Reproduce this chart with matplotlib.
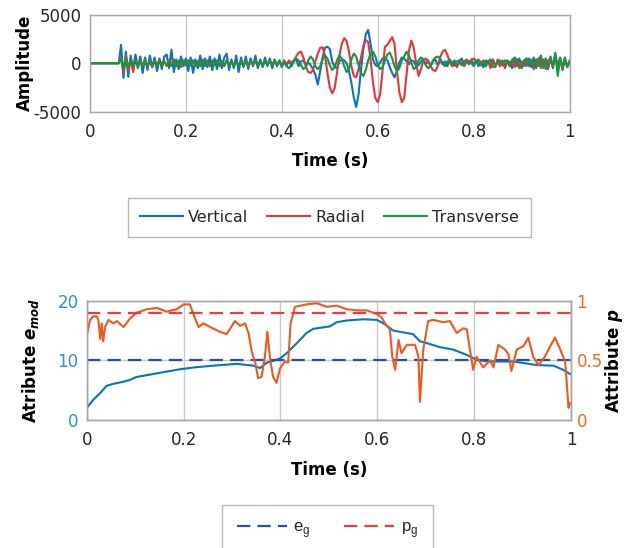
import numpy as np
import matplotlib.pyplot as plt

plt.rcParams['font.family'] = ['DejaVu Sans']
plt.rcParams['mathtext.fontset'] = 'custom'
plt.rcParams['mathtext.it'] = 'DejaVu Sans:bold:italic'
plt.rcParams['mathtext.rm'] = 'DejaVu Sans'
plt.rcParams['axes.unicode_minus'] = False

# ---- seismogram (top panel) ----
t_sig = np.round(np.arange(0.06, 1.0001, 0.005), 3)
t_sig = np.concatenate(([0.0], t_sig))

vertical = [0,
    0, 1900, -1500, 1200, -1400, 800, -600, 900, -500, 700,
    -1000, 600, -700, 800, -400, 600, -800, 500, -600, 700,
    900, -500, 1400, -900, 400, -600, 700, -300, 500, -800,
    600, -1000, 400, -500, 800, -600, 500, -400, 700, -700,
    500, -600, 900, -500, 600, 1000, -700, 400, -500, 800,
    -900, 600, -400, 700, -600, 500, -300, 800, -500, 400,
    -400, 600, -300, 500, -500, 400, -300, 300, -400, 300,
    -200, 300, -300, 200, 400, -300, 200, 300, -200, 100,
    -200, -600, -1200, -2200, -800, 600, 1600, 1700, 1500, 200,
    -400, -500, 200, 400, 300, 0, -800, -2000, -3500, -4500,
    -3200, -600, 1500, 3000, 3450, 2000, 400, -200, -300, 100,
    500, 600, 300, -400, -1000, -1450, -800, 100, 600, 500,
    200, -100, 300, 200, -300, -200, 200, 400, -100, 300,
    -300, 200, 400, -200, 300, -100, 200, -300, 400, -200,
    300, -400, 200, 500, -300, 200, -100, 400, -200, 300,
    -300, 200, -400, 300, 200, -300, 400, -200, 100, -300,
    200, -400, 300, 100, -500, 400, -300, 500, -400, 300,
    -300, 500, -400, 600, -500, 300, 800, -400, 500, -600,
    700, -500, 900, -300, 600, -700, 500, -400, 300]

radial = [0,
    0, 600, -1000, 800, -700, 500, -900, 400, -400, 300,
    -300, 400, -300, 200, -400, 300, -200, 400, -300, 200,
    -300, 300, -200, 400, -300, 200, -400, 300, -200, 300,
    -200, 300, -300, 200, -200, 400, -300, 200, -300, 300,
    -200, 300, -300, 200, -300, 300, -200, 200, -300, 200,
    -200, 300, -200, 200, -300, 200, -200, 300, -200, 200,
    -200, 200, -100, 200, -200, 300, -200, 100, -200, 200,
    -100, 200, 100, 300, 700, 1100, 1200, 600, -300, -900,
    -1000, -700, 200, 1000, 1600, 1650, 800, -1000, -2500, -3100,
    -2600, -1000, 800, 2000, 2600, 2300, 1200, -300, -1300, -1450,
    -600, 600, 1800, 2400, 2200, 400, -2000, -3600, -4000, -3200,
    -800, 1700, 1900, 2300, 2700, 2000, -800, -3000, -4000, -3600,
    -1200, 1300, 2350, 1600, 0, -1300, -600, 300, 500, 200,
    -300, -700, -800, -300, 600, 1200, 1400, 900, 100, -300,
    -200, -300, 100, -200, 200, 400, -100, 300, 500, 200,
    400, -200, 300, -300, 200, -500, 300, -400, 400, -300,
    300, -500, 200, -300, 400, -400, 300, -500, 200, -300,
    500, -300, 300, -600, 400, -300, 600, -500, 300, -400,
    500, -300, 700, -400, 500, -600, 300, -300, 200]

transverse = [0,
    0, 600, -700, 500, -400, 400, -300, 300, -300, 200,
    -200, 300, -200, 200, -300, 200, -200, 300, -200, 200,
    -200, 200, -300, 200, -200, 300, -200, 200, -200, 300,
    -200, 300, -200, 200, -300, 200, -200, 300, -200, 200,
    -200, 300, -200, 200, -200, 300, -200, 200, -300, 200,
    -200, 200, -300, 200, -200, 300, -100, 200, -200, 200,
    -200, 200, -200, 300, -100, 200, -200, 300, -300, 100,
    -300, -500, -200, 200, 500, 300, -200, -600, -400, 300,
    700, 400, -300, -600, -300, 400, 800, 500, -200, -700,
    -400, 300, 800, 500, -300, -900, -600, 400, 1000, 700,
    -200, -1000, -1300, -700, 300, 1000, 1200, 700, -200, -600,
    -400, 300, 900, 1100, 500, -300, -800, -500, 300, 700,
    1200, 800, 0, -600, -400, 300, 600, 400, -200, -500,
    -300, 300, 600, 700, 500, 0, -300, 200, 300, 100,
    -200, 200, 300, -100, -200, 300, 200, 0, -300, 200,
    300, -200, 100, -300, 200, 400, -400, -300, 200, 300,
    -200, 300, 200, -300, 300, 600, 400, -300, -500, 300,
    500, -200, 400, -400, 300, 500, -500, 400, -600, 300,
    500, -400, 1100, -1300, 400, -300, 600, -400, 200]

# ---- attributes (bottom panel) ----
t_e = [0.000, 0.014, 0.028, 0.041, 0.055, 0.076, 0.089, 0.103, 0.124, 0.158,
       0.193, 0.227, 0.262, 0.310, 0.344, 0.358, 0.372, 0.385, 0.399, 0.413,
       0.434, 0.454, 0.468, 0.502, 0.516, 0.537, 0.571, 0.599, 0.613, 0.633,
       0.674, 0.688, 0.702, 0.730, 0.757, 0.785, 0.805, 0.826, 0.881, 0.929,
       0.964, 0.984, 0.998]
e_mod = [2.0, 3.4, 4.5, 5.7, 6.05, 6.4, 6.7, 7.2, 7.5, 8.0,
         8.5, 8.85, 9.1, 9.4, 9.1, 8.7, 9.6, 9.9, 10.3, 11.2,
         12.9, 14.6, 15.3, 15.7, 16.4, 16.7, 16.9, 16.8, 16.2, 15.0,
         14.4, 13.2, 12.9, 12.2, 11.8, 10.9, 10.1, 9.8, 9.8, 9.2,
         9.1, 8.4, 7.7]

t_p = [0.000, 0.001, 0.007, 0.014, 0.021, 0.024, 0.028, 0.031, 0.034, 0.038,
       0.045, 0.055, 0.062, 0.076, 0.089, 0.103, 0.124, 0.145, 0.165, 0.186,
       0.200, 0.213, 0.224, 0.231, 0.241, 0.255, 0.275, 0.289, 0.306, 0.317,
       0.327, 0.334, 0.341, 0.348, 0.354, 0.361, 0.368, 0.373, 0.379, 0.385,
       0.392, 0.399, 0.409, 0.416, 0.421, 0.430, 0.454, 0.475, 0.496, 0.516,
       0.537, 0.557, 0.578, 0.599, 0.609, 0.616, 0.626, 0.631, 0.637, 0.644,
       0.650, 0.661, 0.678, 0.685, 0.688, 0.695, 0.705, 0.716, 0.736, 0.750,
       0.764, 0.778, 0.785, 0.791, 0.798, 0.805, 0.819, 0.833, 0.840, 0.850,
       0.864, 0.871, 0.877, 0.888, 0.902, 0.912, 0.922, 0.933, 0.946, 0.960,
       0.967, 0.977, 0.988, 0.995, 0.998]
p_attr = [0.70, 0.73, 0.84, 0.87, 0.87, 0.84, 0.68, 0.81, 0.66, 0.78,
          0.84, 0.81, 0.83, 0.78, 0.85, 0.90, 0.93, 0.94, 0.91, 0.93,
          0.97, 0.97, 0.85, 0.78, 0.81, 0.78, 0.74, 0.72, 0.83, 0.79,
          0.81, 0.73, 0.57, 0.48, 0.35, 0.36, 0.53, 0.74, 0.50, 0.36,
          0.31, 0.43, 0.49, 0.48, 0.81, 0.95, 0.97, 0.98, 0.95, 0.96,
          0.93, 0.92, 0.92, 0.89, 0.86, 0.81, 0.76, 0.53, 0.42, 0.67,
          0.56, 0.63, 0.63, 0.53, 0.15, 0.59, 0.83, 0.84, 0.82, 0.83,
          0.73, 0.77, 0.76, 0.60, 0.42, 0.53, 0.44, 0.50, 0.44, 0.63,
          0.59, 0.55, 0.41, 0.59, 0.62, 0.69, 0.53, 0.46, 0.53, 0.64,
          0.69, 0.60, 0.49, 0.10, 0.14]

e_g = 10
p_g = 0.9

xticks = [0, 0.2, 0.4, 0.6, 0.8, 1]
xticklabels = ['0', '0.2', '0.4', '0.6', '0.8', '1']

c_blue = '#0a72c0'
c_red = '#e8333a'
c_green = '#0f9a3c'
c_orange = '#f0581e'
c_tickblue = '#2a8fd4'
c_tickorange = '#f06a24'
c_text = '#262626'
c_spine = '#a6a6a6'

fig = plt.figure(figsize=(6.33, 5.48), dpi=100)

# top panel
ax1 = fig.add_axes([0.142, 0.796, 0.758, 0.177])
ax1.plot(t_sig, vertical, color=c_blue, lw=1.5, label='Vertical')
ax1.plot(t_sig, radial, color=c_red, lw=1.5, label='Radial')
ax1.plot(t_sig, transverse, color=c_green, lw=1.5, label='Transverse')
ax1.set_xlim(0, 1)
ax1.set_ylim(-5000, 5000)
ax1.set_yticks([-5000, 0, 5000])
ax1.set_xticks(xticks)
ax1.set_xticklabels(xticklabels)
ax1.set_xlabel('Time (s)', fontsize=12, fontweight='bold', color='black', labelpad=8)
ax1.set_ylabel('Amplitude', fontsize=12, fontweight='bold', color='black', labelpad=0)

# bottom panel
ax2 = fig.add_axes([0.137, 0.234, 0.765, 0.217])
ax2.plot(t_e, e_mod, color=c_blue, lw=1.5)
ax2.axhline(e_g, color='#2a4ea6', lw=1.6, dashes=(6, 3.2), label='e$_\\mathregular{g}$')
ax2.set_xlim(0, 1)
ax2.set_ylim(0, 20)
ax2.set_yticks([0, 10, 20])
ax2.set_xticks(xticks)
ax2.set_xticklabels(xticklabels)
ax2.set_xlabel('Time (s)', fontsize=12, fontweight='bold', color='black', labelpad=9)
ax2.set_ylabel('Atribute $e_{mod}$', fontsize=12, fontweight='bold', color='black', labelpad=12)
ax2.tick_params(axis='y', colors=c_tickblue)

ax3 = ax2.twinx()
ax3.plot(t_p, p_attr, color=c_orange, lw=1.5)
ax3.axhline(p_g, color='#ee3b40', lw=1.6, dashes=(6, 3.2), label='p$_\\mathregular{g}$')
ax3.set_ylim(0, 1)
ax3.set_yticks([0, 0.5, 1])
ax3.set_yticklabels(['0', '0.5', '1'])
ax3.set_ylabel('Attribute $p$', fontsize=12, fontweight='bold', color='black', labelpad=0)
ax3.tick_params(axis='y', colors=c_tickorange)

for ax in (ax1, ax2, ax3):
    ax.tick_params(length=0, labelsize=12, pad=6)
    for s in ax.spines.values():
        s.set_color(c_spine)
        s.set_linewidth(1.0)
for ax in (ax1, ax2):
    ax.tick_params(axis='x', colors=c_text, pad=8)
    ax.grid(True, color='#c8c8c8', lw=1.0)
    ax.set_axisbelow(True)
ax1.tick_params(axis='y', colors=c_text)
ax3.tick_params(axis='y', pad=4)

leg1 = fig.legend(*ax1.get_legend_handles_labels(), loc='center',
                  bbox_to_anchor=(0.52, 0.603), ncol=3, fontsize=11.5,
                  frameon=True, fancybox=False, edgecolor='#a6a6a6',
                  handlelength=2.7, columnspacing=1.2, handletextpad=0.3,
                  borderpad=0.75)
for txt in leg1.get_texts():
    txt.set_color(c_text)

h2, l2 = ax2.get_legend_handles_labels()
h3, l3 = ax3.get_legend_handles_labels()
leg2 = fig.legend(h2 + h3, l2 + l3, loc='upper center',
                  bbox_to_anchor=(0.517, 0.079), ncol=2,
                  prop={'family': 'Liberation Sans', 'size': 12},
                  frameon=True, fancybox=False, edgecolor='#a6a6a6',
                  handlelength=3.0, columnspacing=2.0, handletextpad=0.4,
                  borderpad=0.9, borderaxespad=0)
for txt in leg2.get_texts():
    txt.set_color(c_text)

fig.savefig('out.png', dpi=100)
